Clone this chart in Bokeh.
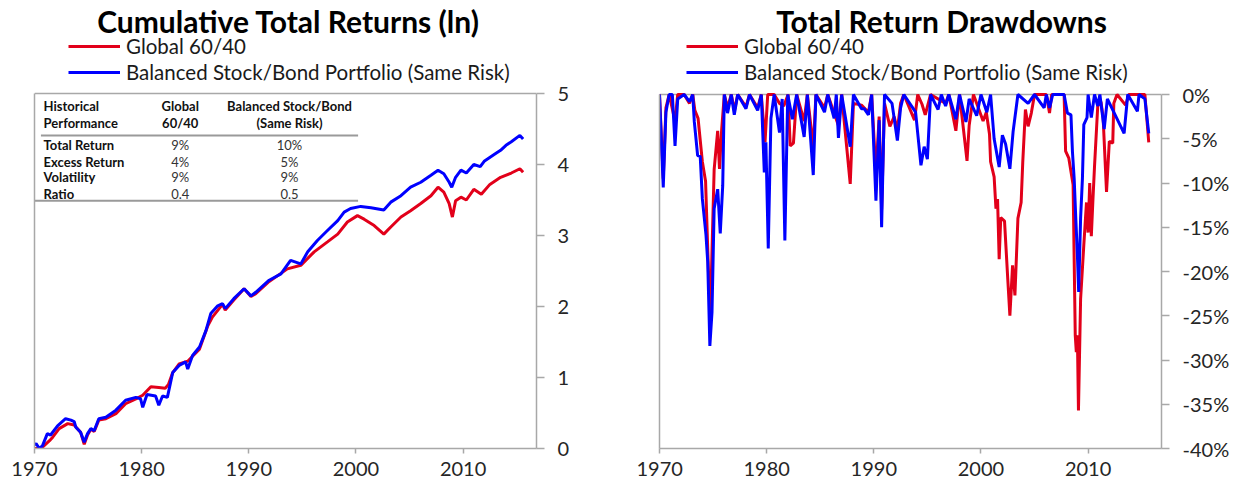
from bokeh.plotting import figure
from bokeh.models import (Range1d, FixedTicker, PrintfTickFormatter, Legend, LegendItem,
                          LinearAxis, Label)
from bokeh.core.properties import value
from bokeh.layouts import row
from bokeh.embed import file_html
from bokeh.resources import INLINE

# ---------------- data ----------------
decade_ticks = [1970, 1980, 1990, 2000, 2010]
cum_ticks = [0, 1, 2, 3, 4, 5]
dd_ticks = [-40, -35, -30, -25, -20, -15, -10, -5, 0]

titles = ["Cumulative Total Returns (ln)", "Total Return Drawdowns"]
series_names = ["Global 60/40", "Balanced Stock/Bond Portfolio (Same Risk)"]

cum_blue_year = [
    1970.0, 1970.15, 1970.45, 1970.75, 1971.2, 1971.5, 1972.15, 1972.9, 1973.4, 1973.7,
    1973.86, 1974.3, 1974.64, 1974.95, 1975.26, 1975.57, 1976.0, 1976.66, 1977.6, 1978.5,
    1979.46, 1979.9, 1980.1, 1980.5, 1981.3, 1981.6, 1981.95, 1982.4, 1982.9, 1983.5,
    1984.1, 1984.3, 1984.75, 1985.4, 1986.0, 1986.45, 1987.1, 1987.55, 1987.8, 1988.6,
    1989.56, 1990.2, 1990.65, 1991.9, 1993.0, 1993.9, 1994.85, 1995.5, 1996.4, 1997.34,
    1998.3, 1998.9, 1999.5, 2000.45, 2001.4, 2002.6, 2003.25, 2004.2, 2005.1, 2006.05,
    2007.0, 2007.66, 2008.2, 2008.7, 2008.94, 2009.3, 2009.8, 2010.3, 2011.0, 2011.6,
    2012.0, 2013.0, 2013.5, 2014.0, 2014.5, 2015.3, 2015.6]
cum_blue_val = [
    0.05, 0.07, 0.00, 0.04, 0.21, 0.19, 0.32, 0.42, 0.40, 0.38,
    0.30, 0.23, 0.09, 0.21, 0.28, 0.25, 0.42, 0.44, 0.54, 0.68,
    0.72, 0.70, 0.58, 0.76, 0.74, 0.61, 0.74, 0.72, 1.07, 1.17,
    1.22, 1.12, 1.31, 1.43, 1.66, 1.90, 2.01, 2.04, 1.97, 2.11,
    2.25, 2.15, 2.20, 2.37, 2.46, 2.65, 2.60, 2.77, 2.93, 3.07,
    3.21, 3.33, 3.38, 3.41, 3.39, 3.36, 3.47, 3.56, 3.68, 3.75,
    3.85, 3.92, 3.87, 3.75, 3.68, 3.82, 3.92, 3.88, 4.00, 3.97,
    4.05, 4.15, 4.20, 4.27, 4.32, 4.41, 4.36]

cum_red_year = [
    1970.0, 1970.45, 1970.75, 1971.4, 1971.7, 1972.3, 1973.1, 1973.7, 1974.3, 1974.64,
    1974.95, 1975.26, 1975.57, 1976.0, 1976.66, 1977.6, 1978.5, 1979.46, 1980.1, 1980.86,
    1981.6, 1982.2, 1982.5, 1982.9, 1983.5, 1984.3, 1984.75, 1985.4, 1986.15, 1986.6,
    1987.55, 1987.8, 1988.6, 1989.56, 1990.2, 1990.65, 1991.8, 1993.6, 1994.85, 1996.1,
    1997.34, 1998.3, 1999.2, 2000.14, 2000.76, 2001.7, 2002.6, 2003.25, 2004.2, 2005.1,
    2006.05, 2007.0, 2007.66, 2008.2, 2008.7, 2009.0, 2009.3, 2009.8, 2010.3, 2011.0,
    2011.7, 2012.5, 2013.5, 2014.5, 2015.3, 2015.6]
cum_red_val = [
    0.00, 0.00, 0.02, 0.11, 0.16, 0.28, 0.35, 0.33, 0.23, 0.06,
    0.19, 0.27, 0.24, 0.40, 0.42, 0.49, 0.63, 0.70, 0.75, 0.87,
    0.86, 0.85, 0.90, 1.07, 1.19, 1.23, 1.30, 1.40, 1.72, 1.85,
    2.03, 1.95, 2.09, 2.25, 2.14, 2.18, 2.34, 2.53, 2.58, 2.77,
    2.91, 3.02, 3.19, 3.28, 3.23, 3.14, 3.02, 3.12, 3.26, 3.35,
    3.45, 3.56, 3.68, 3.61, 3.45, 3.26, 3.49, 3.54, 3.50, 3.65,
    3.58, 3.72, 3.82, 3.88, 3.94, 3.89]

dd_blue_year = [
    1970.0, 1970.35, 1970.6, 1970.9, 1971.2, 1971.45, 1971.7, 1972.3, 1972.8, 1973.1,
    1973.25, 1973.56, 1973.8, 1974.0, 1974.34, 1974.5, 1974.7, 1974.9, 1975.1, 1975.43,
    1975.67, 1975.9, 1976.05, 1976.35, 1976.7, 1976.98, 1977.3, 1978.07, 1978.4, 1979.16,
    1979.5, 1979.78, 1979.93, 1980.15, 1980.4, 1980.7, 1981.2, 1981.45, 1981.7, 1981.97,
    1982.4, 1982.8, 1983.5, 1983.8, 1984.35, 1984.6, 1985.4, 1985.7, 1986.3, 1986.5,
    1986.7, 1987.0, 1987.8, 1988.1, 1988.85, 1989.1, 1989.5, 1989.8, 1990.2, 1990.5,
    1990.73, 1991.0, 1991.7, 1992.2, 1992.5, 1992.8, 1993.9, 1994.4, 1994.7, 1995.0,
    1995.3, 1996.0, 1996.3, 1996.7, 1997.0, 1997.66, 1998.0, 1998.6, 1998.9, 1999.6,
    2000.0, 2000.55, 2000.9, 2001.23, 2001.7, 2002.0, 2002.3, 2002.7, 2003.0, 2003.45,
    2004.4, 2005.0, 2005.9, 2006.1, 2006.4, 2006.7, 2007.76, 2008.07, 2008.4, 2008.54,
    2008.7, 2008.85, 2009.0, 2009.12, 2009.3, 2009.47, 2009.6, 2009.9, 2010.0, 2010.3,
    2010.6, 2010.9, 2011.1, 2011.5, 2011.8, 2013.36, 2013.7, 2014.6, 2014.75, 2015.3,
    2015.66]
dd_blue_val = [
    0, -10.5, -2.0, 0, 0, -5.8, -0.5, 0, -0.8, 0,
    -3.1, -6.9, -7.0, -11.8, -15.9, -18.9, -28.4, -24.6, -12.9, -10.7,
    -15.7, -10.3, 0, -2.1, 0, -2.3, 0, -1.6, 0, -1.8,
    0, -8.8, -5.4, -17.4, -2.7, 0, -4.3, -0.5, -16.5, 0,
    -2.8, 0, -4.8, 0, -9.1, 0, -2.0, 0, -2.7, 0,
    -4.9, 0, -5.9, 0, -1.6, -1.6, -2.3, 0, -12.0, -2.9,
    -15.0, 0, -1.0, -5.2, -1.5, 0, -2.0, -8.0, -5.9, -7.3,
    0, -1.7, 0, -1.3, 0, -2.8, 0, -3.1, -0.5, -2.4,
    0, -2.0, 0, -5.0, -8.2, -4.6, -5.6, -8.4, -4.2, 0,
    -1.0, 0, -1.5, 0, -1.5, 0, 0, -2.1, -2.3, -6.5,
    -9.5, -14.0, -18.1, -22.3, -14.0, -9.5, -3.4, -2.6, 0, -2.6,
    0, -1.3, 0, -3.9, -0.5, -4.4, 0, -1.9, 0, -0.5,
    -4.4]

dd_red_year = [
    1970.0, 1970.35, 1970.6, 1970.9, 1971.45, 1971.7, 1972.3, 1972.8, 1973.1, 1973.3,
    1973.6, 1974.0, 1974.3, 1974.6, 1974.75, 1975.1, 1975.43, 1975.6, 1975.8, 1976.05,
    1976.35, 1976.7, 1977.0, 1977.3, 1978.07, 1978.4, 1979.16, 1979.5, 1979.85, 1980.1,
    1980.7, 1981.2, 1981.6, 1982.0, 1982.2, 1982.5, 1982.8, 1983.5, 1983.8, 1984.35,
    1984.6, 1985.4, 1985.7, 1986.7, 1987.0, 1987.8, 1988.1, 1988.85, 1989.5, 1989.8,
    1990.2, 1990.5, 1990.73, 1991.0, 1991.5, 1991.9, 1992.2, 1992.5, 1992.8, 1993.8,
    1994.1, 1994.5, 1994.8, 1995.3, 1996.7, 1997.0, 1997.66, 1998.0, 1998.7, 1998.9,
    1999.3, 2000.2, 2000.5, 2000.8, 2000.9, 2001.23, 2001.4, 2001.55, 2001.7, 2001.85,
    2002.2, 2002.5, 2002.7, 2002.95, 2003.17, 2003.45, 2003.75, 2003.9, 2004.15, 2004.4,
    2004.7, 2005.0, 2006.1, 2006.4, 2006.6, 2007.76, 2007.9, 2008.2, 2008.6, 2008.8,
    2008.9, 2009.0, 2009.1, 2009.3, 2009.6, 2009.75, 2009.85, 2010.0, 2010.15, 2010.3,
    2010.45, 2010.6, 2010.9, 2011.2, 2011.4, 2011.72, 2011.98, 2012.3, 2012.4, 2012.7,
    2013.5, 2013.8, 2015.3, 2015.66]
dd_red_val = [
    0, -9.5, -1.5, 0, -3.0, 0, 0, -1.0, 0, -1.8,
    -2.7, -7.6, -9.8, -21.2, -24.6, -8.5, -4.1, -8.4, -4.0, 0,
    -1.5, 0, -1.8, 0, -1.4, 0, -1.5, 0, -5.4, 0,
    0, -1.0, -1.3, 0, -5.8, -5.5, 0, -3.0, 0, -6.0,
    0, -1.5, 0, -3.5, 0, -10.1, -1.0, -1.2, -2.0, 0,
    -9.0, -2.5, -13.0, -1.0, -3.6, -2.5, -4.0, -1.0, 0, -2.9,
    0, -1.1, -2.3, 0, -1.0, 0, -4.1, 0, -7.5, -3.5,
    0, -3.0, -2.0, -4.5, -7.6, -9.3, -12.9, -11.8, -18.6, -13.9,
    -14.3, -20.8, -25.0, -19.3, -22.7, -14.0, -12.2, -7.7, -1.7, -3.6,
    -2.1, 0, 0, -2.1, 0, 0, -6.4, -7.2, -10.2, -27.2,
    -29.1, -27.2, -35.7, -23.1, -17.0, -14.1, -12.2, -15.6, -10.0, -16.0,
    -11.9, -8.1, -1.3, -0.8, -2.6, -11.0, -5.3, -5.5, -1.0, 0,
    -1.2, 0, 0, -5.4]

table_header_1 = ["Historical", "Global", "Balanced Stock/Bond"]
table_header_2 = ["Performance", "60/40", "(Same Risk)"]
table_metrics = ["Total Return", "Excess Return", "Volatility", "Ratio"]
table_global = ["9%", "4%", "9%", "0.4"]
table_balanced = ["10%", "5%", "9%", "0.5"]

assert len(cum_blue_year) == len(cum_blue_val)
assert len(cum_red_year) == len(cum_red_val)
assert len(dd_blue_year) == len(dd_blue_val)
assert len(dd_red_year) == len(dd_red_val)

# ---------------- style ----------------
RED = "#E2001A"
BLUE = "#0000FF"
GRAY = "#A8A8A8"
TICK_TEXT = "#262626"
FONT = "Lato"
X0, X1 = 1970, 2016.85
FRAME_W, FRAME_H = 502, 448


def style_axis(ax):
    ax.axis_line_color = GRAY
    ax.axis_line_width = 1.5
    ax.major_tick_line_color = GRAY
    ax.major_tick_line_width = 1.5
    ax.major_tick_in = 0
    ax.minor_tick_in = 0
    ax.minor_tick_out = 0
    ax.major_label_text_font = FONT
    ax.major_label_text_font_size = "20px"
    ax.major_label_text_color = TICK_TEXT


def make_fig(title, min_left, min_right, y_lo, y_top_line, y_hi, yticks, title_x, legend_x,
             yformat=None):
    p = figure(frame_width=FRAME_W, frame_height=FRAME_H,
               x_range=Range1d(X0, X1), y_range=Range1d(y_lo, y_hi),
               y_axis_location="right", toolbar_location=None, output_backend="svg",
               min_border_left=min_left, min_border_right=min_right,
               min_border_top=0, min_border_bottom=20,
               background_fill_color="white", border_fill_color="white")
    p.xgrid.visible = False
    p.ygrid.visible = False
    p.outline_line_color = None
    xax = p.below[0]
    yax = p.right[0]
    style_axis(xax)
    style_axis(yax)
    xax.ticker = FixedTicker(ticks=decade_ticks)
    xax.major_tick_out = 5
    xax.major_label_standoff = 8
    yax.ticker = FixedTicker(ticks=yticks)
    yax.bounds = (y_lo, y_top_line)
    yax.major_tick_out = 8
    yax.major_label_standoff = 13
    if yformat is not None:
        yax.formatter = PrintfTickFormatter(format=yformat)
    # left frame edge (line only, no ticks or labels)
    left = LinearAxis(ticker=FixedTicker(ticks=[]), bounds=(y_lo, y_top_line))
    style_axis(left)
    left.major_tick_out = 0
    p.add_layout(left, "left")
    # top frame edge
    p.segment(x0=[X0], y0=[y_top_line], x1=[X1], y1=[y_top_line],
              line_color=GRAY, line_width=1.5)
    p.add_layout(Label(x=title_x, y=FRAME_H - 20, x_units="screen", y_units="screen",
                       text=title, text_align="center", text_baseline="middle",
                       text_font=FONT, text_font_size="30px", text_font_style="bold",
                       text_color="black"))
    p._legend_x = legend_x
    return p


def add_legend(p, red_r, blue_r):
    legend = Legend(items=[LegendItem(label=series_names[0], renderers=[red_r]),
                           LegendItem(label=series_names[1], renderers=[blue_r])],
                    orientation="vertical", location=(p._legend_x, FRAME_H - 85),
                    border_line_color=None, background_fill_alpha=0,
                    label_text_font=FONT, label_text_font_size="20.5px",
                    label_text_color="#1a1a1a",
                    glyph_width=52, glyph_height=26, label_height=26,
                    label_standoff=6, spacing=0, padding=0, margin=0)
    p.add_layout(legend, "center")


# ---------------- left: cumulative returns ----------------
# 0 at frame bottom, 5 at 93 px from the top (71 px per unit)
p1 = make_fig(titles[0], 34, 100, 0, 5, 448 / 71.0, cum_ticks, 254, 34)
r_red1 = p1.line(cum_red_year, cum_red_val, line_color=RED, line_width=3)
r_blue1 = p1.line(cum_blue_year, cum_blue_val, line_color=BLUE, line_width=3)
add_legend(p1, r_red1, r_blue1)

# table inside the plot
col_left, col_g, col_b = 1970.85, 1983.6, 1993.8
row_h1, row_h2 = 4.83, 4.58
row_y = [4.27, 4.04, 3.82, 3.59]
tf = value(FONT)
p1.text(x=[col_left, col_g, col_b], y=[row_h1] * 3, text=table_header_1,
        text_align=["left", "center", "center"], text_baseline="middle",
        text_font=tf, text_font_size="13px", text_font_style="bold", text_color="#111111")
p1.text(x=[col_left, col_g, col_b], y=[row_h2] * 3, text=table_header_2,
        text_align=["left", "center", "center"], text_baseline="middle",
        text_font=tf, text_font_size="13px", text_font_style="bold", text_color="#111111")
p1.text(x=[col_left] * 4, y=row_y, text=table_metrics, text_align="left",
        text_baseline="middle", text_font=tf, text_font_size="13px",
        text_font_style="bold", text_color="#111111")
p1.text(x=[col_g] * 4, y=row_y, text=table_global, text_align="center",
        text_baseline="middle", text_font=tf, text_font_size="13px", text_color="#333333")
p1.text(x=[col_b] * 4, y=row_y, text=table_balanced, text_align="center",
        text_baseline="middle", text_font=tf, text_font_size="13px", text_color="#333333")
p1.segment(x0=[1970.6, 1970.0], y0=[4.41, 3.49], x1=[2000.2, 2000.2], y1=[4.41, 3.49],
           line_color="#9A9A9A", line_width=2)

# ---------------- right: drawdowns ----------------
# -40% at frame bottom, 0% at 94 px from the top (8.85 px per percent)
p2 = make_fig(titles[1], 23, 5, -40, 0, -40 + 448 / 8.85, dd_ticks, 282, 27,
              yformat="%d%%")
r_red2 = p2.line(dd_red_year, dd_red_val, line_color=RED, line_width=3)
r_blue2 = p2.line(dd_blue_year, dd_blue_val, line_color=BLUE, line_width=3)
add_legend(p2, r_red2, r_blue2)

layout = row(p1, p2, spacing=0)
open("out.html", "w").write(file_html(layout, INLINE))
